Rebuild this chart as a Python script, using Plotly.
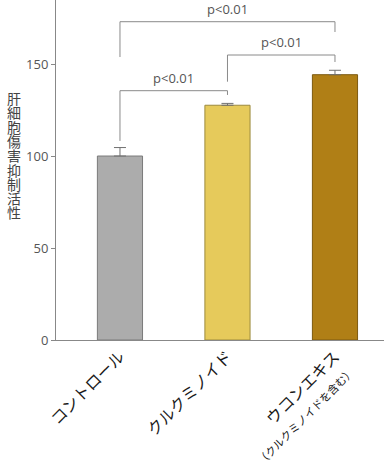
import plotly.graph_objects as go

categories = ["コントロール", "クルクミノイド", "ウコンエキス"]
tick_labels = ["コントロール", "クルクミノイド",
               "ウコンエキス<br><span style='font-size:11px'>（クルクミノイドを含む）</span>"]
values = [100.0, 127.6, 144.2]
errors_up = [4.6, 1.0, 2.4]
bar_colors = ["#acacac", "#e6ca5b", "#b07f16"]
edge_colors = ["#7a7a7a", "#9c8a3e", "#7d5a10"]
y_title = "肝細胞傷害抑制活性"
y_ticks = [0, 50, 100, 150]

# significance brackets: (left idx, right idx, height, left leg end, right leg end, label)
br_left = [0, 1, 0]
br_right = [1, 2, 2]
br_height = [135.5, 154.9, 173.0]
br_left_end = [108.2, 140.4, 153.8]
br_right_end = [133.2, 151.1, 167.4]
br_label = ["p<0.01", "p<0.01", "p<0.01"]

xs = list(range(len(categories)))

fig = go.Figure()
fig.add_trace(go.Bar(
    x=xs, y=values, width=0.42,
    marker=dict(color=bar_colors, line=dict(color=edge_colors, width=1)),
    error_y=dict(type="data", symmetric=False, array=errors_up,
                 arrayminus=[0] * len(values), color="#707070",
                 thickness=1, width=6),
    hoverinfo="skip",
))

for l, r, h, le, re_, lab in zip(br_left, br_right, br_height, br_left_end, br_right_end, br_label):
    fig.add_trace(go.Scatter(
        x=[xs[l], xs[l], xs[r], xs[r]], y=[le, h, h, re_],
        mode="lines", line=dict(color="#8a8a8a", width=1),
        cliponaxis=False, hoverinfo="skip",
    ))
    fig.add_annotation(
        x=(xs[l] + xs[r]) / 2, y=h, xref="x", yref="y",
        text=lab, showarrow=False, yanchor="bottom", yshift=2,
        font=dict(size=13, color="#555555", family="Open Sans, sans-serif"),
    )

# vertical y-axis title, stacked characters in one text block
title_text = "<br>".join(f"<span style='font-size:14px'>{c}</span>" for c in y_title)
fig.add_annotation(
    x=(14 - 56) / 328, y=1 - 155 / 340, xref="paper", yref="paper",
    text=title_text, showarrow=False, xanchor="center", yanchor="middle",
    font=dict(size=11, color="#444444", family="Noto Sans CJK JP"),
)

fig.update_layout(
    width=384, height=468,
    margin=dict(l=56, r=0, t=0, b=128, autoexpand=False),
    plot_bgcolor="white", paper_bgcolor="white",
    showlegend=False,
    xaxis=dict(
        range=[-0.595, 2.456], tickmode="array", tickvals=xs, ticktext=tick_labels,
        tickangle=-45, showline=True, linecolor="#888888", linewidth=1,
        ticks="", showgrid=False, zeroline=False, automargin=False,
        tickfont=dict(size=16, color="#1a1a1a", family="Noto Sans CJK JP"),
    ),
    yaxis=dict(
        range=[0, 184.8], tickvals=y_ticks, showline=True, linecolor="#888888",
        linewidth=1, ticks="outside", ticklen=4, tickcolor="#888888",
        showgrid=False, zeroline=False, automargin=False,
        tickfont=dict(size=13, color="#555555", family="Open Sans, sans-serif"),
    ),
)

fig.write_html(
    "out.html",
    config={"displayModeBar": False},
    post_script="document.body.style.margin='0';document.body.style.overflow='hidden';",
)
